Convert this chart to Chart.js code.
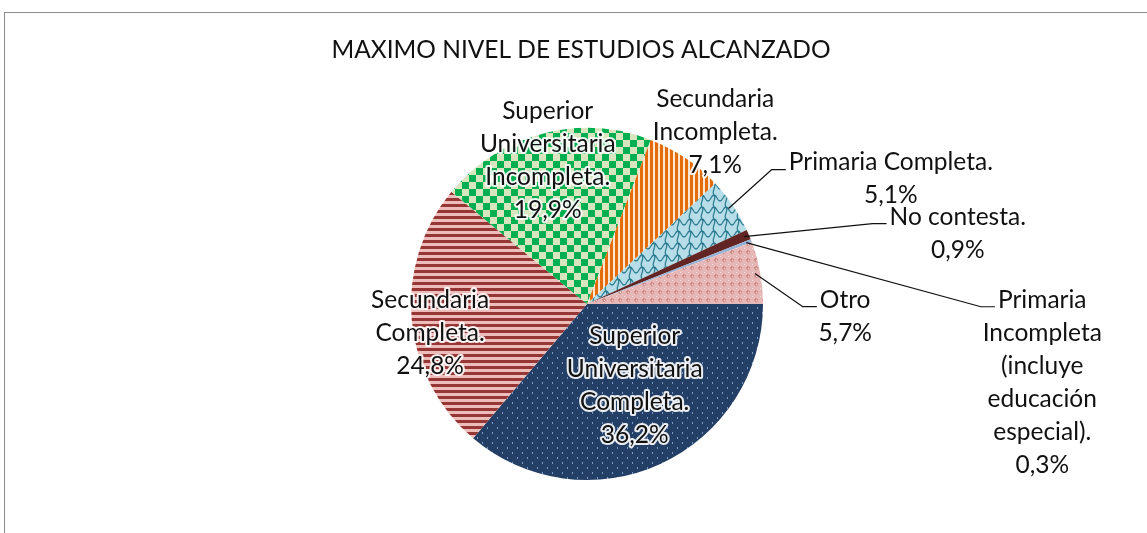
<!DOCTYPE html>
<html>
<head>
<meta charset="utf-8">
<script src="https://cdn.jsdelivr.net/npm/chart.js@4"></script>
<style>
  html, body { margin: 0; padding: 0; background: #fff; overflow: hidden; }
  #wrap { position: relative; width: 1147px; height: 533px; }
  #frame { position: absolute; left: 4px; top: 12px; width: 1300px; height: 700px; border: 1px solid #8c8c8c; box-sizing: border-box; }
  #chart { position: absolute; left: 0; top: 0; }
</style>
</head>
<body>
<div id="wrap">
  <div id="frame"></div>
  <canvas id="chart" width="1147" height="533"></canvas>
</div>
<script>
'use strict';

const chartTitle = "MAXIMO NIVEL DE ESTUDIOS ALCANZADO";

// categorías en el orden de las agujas del reloj (empezando a las 3 en punto)
const categories = [
  "Superior Universitaria Completa.",
  "Secundaria Completa.",
  "Superior Universitaria Incompleta.",
  "Secundaria Incompleta.",
  "Primaria Completa.",
  "No contesta.",
  "Primaria Incompleta (incluye educación especial).",
  "Otro",
];
const percentages = [36.2, 24.8, 19.9, 7.1, 5.1, 0.9, 0.3, 5.7];

// texto de cada etiqueta, línea por línea
const labelLines = [
  ["Superior", "Universitaria", "Completa."],
  ["Secundaria", "Completa."],
  ["Superior", "Universitaria", "Incompleta."],
  ["Secundaria", "Incompleta."],
  ["Primaria Completa."],
  ["No contesta."],
  ["Primaria", "Incompleta", "(incluye", "educación", "especial)."],
  ["Otro"],
];

// posición de cada etiqueta: fracción del radio + ajuste; outer = con línea guía
const labelStyle = [
  { f: 0.51, dx: 10, dy: 0, outer: false },
  { f: 0.895, dx: 0, dy: 15, outer: false },
  { f: 0.84, dx: -2, dy: 0, outer: false },
  { f: 1.18, dx: 12, dy: 0, outer: false },
  { f: 1.0, dx: 158, dy: -43, outer: true },
  { f: 1.0, dx: 209, dy: -18, outer: true },
  { f: 1.0, dx: 291, dy: 59, outer: true },
  { f: 1.0, dx: 85, dy: 27, outer: true },
];

const FONT = "Lato, 'Open Sans', sans-serif";
const LINE_H = 33;

const makePattern = (w, h, draw) => {
  const c = document.createElement("canvas");
  c.width = w;
  c.height = h;
  const g = c.getContext("2d");
  draw(g, w, h);
  return g.createPattern(c, "repeat");
};

const patterns = [
  // azul marino con puntos
  makePattern(10, 10, (g) => {
    g.fillStyle = "#243f65";
    g.fillRect(0, 0, 10, 10);
    g.fillStyle = "#7d9ac6";
    g.fillRect(2, 2, 1, 2);
    g.fillRect(7, 7, 1, 2);
  }),
  // rayas horizontales rojas
  makePattern(4, 6, (g) => {
    g.fillStyle = "#edbdbb";
    g.fillRect(0, 0, 4, 6);
    g.fillStyle = "#963735";
    g.fillRect(0, 0, 4, 3);
  }),
  // damero verde
  makePattern(14, 14, (g) => {
    g.fillStyle = "#d8e6bf";
    g.fillRect(0, 0, 14, 14);
    g.fillStyle = "#00b050";
    g.fillRect(0, 0, 7, 7);
    g.fillRect(7, 7, 7, 7);
  }),
  // rayas verticales naranjas
  makePattern(5, 4, (g) => {
    g.fillStyle = "#fde6d2";
    g.fillRect(0, 0, 5, 4);
    g.fillStyle = "#e46c0a";
    g.fillRect(0, 0, 3, 4);
  }),
  // celeste con ondas
  makePattern(12, 12, (g) => {
    g.fillStyle = "#b7dee8";
    g.fillRect(0, 0, 12, 12);
    g.strokeStyle = "#2f7f93";
    g.lineWidth = 1.3;
    [[0, 0], [12, 0], [-12, 0], [0, 12], [0, -12]].forEach(([ox, oy]) => {
      g.beginPath();
      g.moveTo(ox, oy + 9);
      g.bezierCurveTo(ox + 3, oy + 9, ox + 3, oy + 3, ox + 6, oy + 3);
      g.bezierCurveTo(ox + 9, oy + 3, ox + 9, oy + 9, ox + 12, oy + 9);
      g.moveTo(ox + 6, oy + 3);
      g.bezierCurveTo(ox + 9, oy + 7, ox + 3, oy + 11, ox + 6, oy + 15);
      g.stroke();
    });
  }),
  "#632523",
  "#95b3d7",
  // rosa con rombos
  makePattern(8, 8, (g) => {
    g.fillStyle = "#e6b9b8";
    g.fillRect(0, 0, 8, 8);
    g.fillStyle = "#d08c8a";
    g.beginPath();
    g.moveTo(4, 1.5);
    g.lineTo(6.5, 4);
    g.lineTo(4, 6.5);
    g.lineTo(1.5, 4);
    g.closePath();
    g.fill();
    g.fillStyle = "#f5e0df";
    g.fillRect(0, 0, 1, 1);
    g.fillRect(4, 4, 1, 1);
  }),
];

const pct = (v) => `${v.toFixed(1).replace(".", ",")}%`;

const sliceLabels = {
  id: "sliceLabels",
  afterDatasetsDraw(chart) {
    const ctx = chart.ctx;
    const meta = chart.getDatasetMeta(0);
    ctx.save();
    ctx.font = `24.5px ${FONT}`;
    ctx.textAlign = "center";
    ctx.textBaseline = "middle";

    meta.data.forEach((arc, i) => {
      const { x, y, startAngle, endAngle, outerRadius } = arc.getProps(
        ["x", "y", "startAngle", "endAngle", "outerRadius"], true);
      const mid = (startAngle + endAngle) / 2;
      const s = labelStyle[i];
      const lines = [...labelLines[i], pct(percentages[i])];
      const cx = x + Math.cos(mid) * outerRadius * s.f + s.dx;
      const cy = y + Math.sin(mid) * outerRadius * s.f + s.dy;
      const top = s.outer ? cy : cy - ((lines.length - 1) * LINE_H) / 2;

      if (s.outer) {
        // línea guía: del borde del sector al texto, con tramo horizontal final
        const ax = x + Math.cos(mid) * outerRadius * 0.97;
        const ay = y + Math.sin(mid) * outerRadius * 0.97;
        const w = ctx.measureText(lines[0]).width;
        const endX = cx - w / 2 - 3;
        const endY = top + 7;
        ctx.strokeStyle = "#111";
        ctx.lineWidth = 1.2;
        ctx.beginPath();
        ctx.moveTo(ax, ay);
        ctx.lineTo(endX - 14, endY);
        ctx.lineTo(endX, endY);
        ctx.stroke();
      }

      lines.forEach((t, k) => {
        const ly = top + k * LINE_H;
        if (!s.outer) {
          ctx.strokeStyle = "rgba(255,255,255,0.9)";
          ctx.lineWidth = 4;
          ctx.lineJoin = "round";
          ctx.strokeText(t, cx, ly);
        }
        ctx.fillStyle = "#111";
        ctx.fillText(t, cx, ly);
      });
    });

    // título
    ctx.font = `24.5px ${FONT}`;
    ctx.fillStyle = "#111";
    ctx.fillText(chartTitle, 581, 50);
    ctx.restore();
  },
};

new Chart(document.getElementById("chart"), {
  type: "pie",
  data: {
    labels: categories,
    datasets: [
      {
        data: percentages,
        backgroundColor: patterns,
        borderWidth: 0,
      },
    ],
  },
  options: {
    responsive: false,
    animation: false,
    rotation: 90,
    layout: { padding: { left: 411, right: 384, top: 128, bottom: 53 } },
    plugins: {
      legend: { display: false },
      tooltip: { enabled: false },
      title: { display: false },
    },
  },
  plugins: [sliceLabels],
});
</script>
</body>
</html>
